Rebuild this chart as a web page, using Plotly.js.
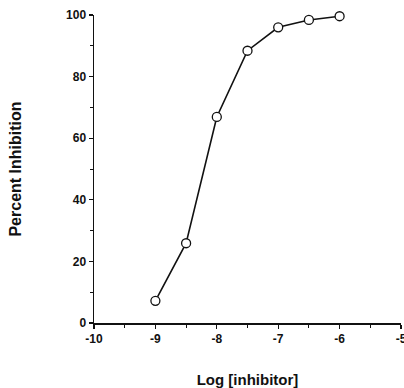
<!DOCTYPE html>
<html><head><meta charset="utf-8">
<script src="https://cdn.plot.ly/plotly-3.0.1.min.js"></script>
<style>html,body{margin:0;padding:0;background:#fff}</style>
</head><body><div id="chart" style="width:404px;height:388px"></div>
<script>
const logInhibitor = [-9, -8.5, -8, -7.5, -7, -6.5, -6];
const percentInhibition = [7.2, 25.9, 66.9, 88.4, 96.0, 98.4, 99.6];
const xTickVals = [-10, -9, -8, -7, -6, -5];
const xTickText = ['-10', '-9', '-8', '-7', '-6', '-5'];
const yTickVals = [0, 20, 40, 60, 80, 100];

const font = {family: 'Liberation Sans, Arial, sans-serif', color: '#111', weight: 'bold'};
Plotly.newPlot('chart', [{
  x: logInhibitor, y: percentInhibition, type: 'scatter', mode: 'lines+markers',
  line: {color: '#111', width: 1.6},
  marker: {symbol: 'circle', size: 9, color: '#fff', line: {color: '#111', width: 1.3}},
  cliponaxis: false, showlegend: false
}], {
  width: 404, height: 388,
  margin: {l: 94, r: 3, t: 15, b: 65},
  paper_bgcolor: '#fff', plot_bgcolor: '#fff',
  xaxis: {
    range: [-10, -5], tickvals: xTickVals, ticktext: xTickText,
    ticks: 'outside', ticklen: 4, tickwidth: 1.3, tickcolor: '#111',
    minor: {dtick: 0.5, tick0: -10, ticks: 'outside', ticklen: 3, tickwidth: 1, tickcolor: '#111', showgrid: false},
    showline: true, linecolor: '#111', linewidth: 1.5, showgrid: false, zeroline: false,
    tickfont: Object.assign({size: 12}, font), automargin: false, ticklabeloverflow: 'allow',
    title: {text: 'Log [inhibitor]', font: Object.assign({size: 15}, font), standoff: 30}
  },
  yaxis: {
    range: [0, 100], tickvals: yTickVals,
    ticks: 'outside', ticklen: 4, tickwidth: 1.3, tickcolor: '#111',
    minor: {dtick: 10, tick0: 0, ticks: 'outside', ticklen: 3, tickwidth: 1, tickcolor: '#111', showgrid: false},
    showline: true, linecolor: '#111', linewidth: 1.5, showgrid: false, zeroline: false,
    tickfont: Object.assign({size: 12}, font), automargin: false, ticklabeloverflow: 'allow',
    title: {text: 'Percent Inhibition', font: Object.assign({size: 16}, font), standoff: 40}
  }
}, {displayModeBar: false, staticPlot: true});
</script></body></html>
